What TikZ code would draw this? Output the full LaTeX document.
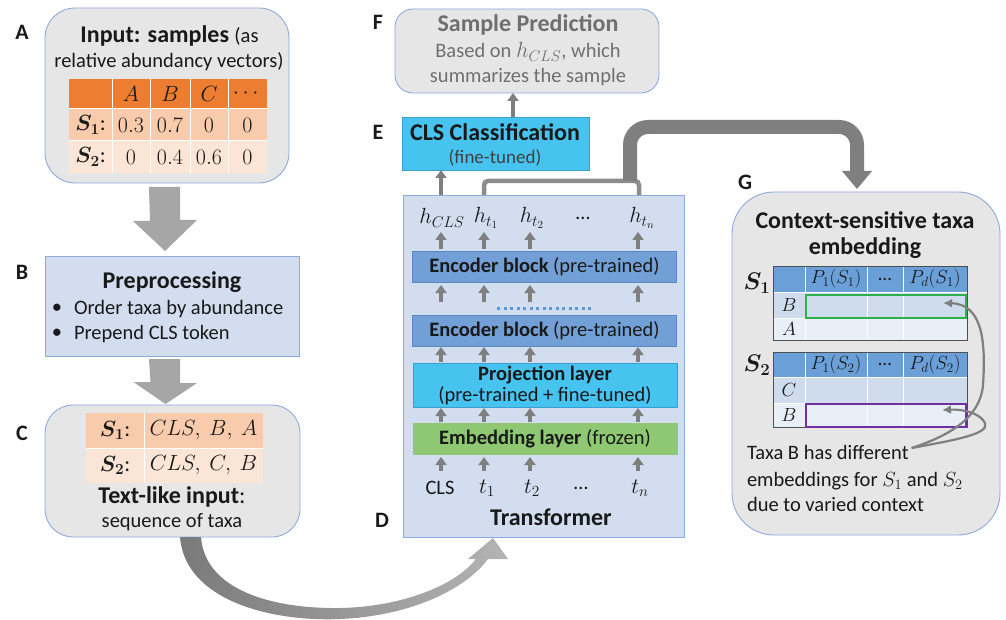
\RequirePackage{fix-cm}
\documentclass[tikz,border=0pt]{standalone}
\usepackage{amsmath}
\usepackage{bm}
\usepackage[no-math]{fontspec}
\setmainfont{Carlito}
\usetikzlibrary{arrows.meta,calc}

\definecolor{boxgray}{HTML}{E7E6E6}
\definecolor{boxedge}{HTML}{8EA9DB}
\definecolor{boxblue}{HTML}{D2DEEF}
\definecolor{encblue}{HTML}{72A0D6}
\definecolor{encedge}{HTML}{5A88C4}
\definecolor{cyanbox}{HTML}{47C3F0}
\definecolor{cyanedge}{HTML}{3A9FD0}
\definecolor{embgreen}{HTML}{8FC872}
\definecolor{orhead}{HTML}{ED7D31}
\definecolor{orrow1}{HTML}{F8CBAD}
\definecolor{orrow2}{HTML}{FBE5D6}
\definecolor{bhead}{HTML}{6A9FD8}
\definecolor{brow1}{HTML}{CFDCEE}
\definecolor{brow2}{HTML}{E9EFF7}
\definecolor{arrgray}{HTML}{7F7F7F}
\definecolor{biggray}{HTML}{A6A6A6}
\definecolor{txtgray}{HTML}{6F6F6F}
\definecolor{selgreen}{HTML}{2DB04E}
\definecolor{selpurple}{HTML}{7030A0}
\definecolor{tabline}{HTML}{505050}
\definecolor{dotblue}{HTML}{5B9BD5}
\definecolor{shadeL}{HTML}{7A7A7A}
\definecolor{shadeR}{HTML}{B4B4B4}

\newcommand\fsH{\fontsize{24}{28}\selectfont}
\newcommand\fsB{\fontsize{20.5}{24}\selectfont}
\newcommand\fsM{\fontsize{22}{26}\selectfont}
\newcommand\fsS{\fontsize{19}{22}\selectfont}
\newcommand\fsL{\fontsize{22}{26}\selectfont}

\begin{document}
\begin{tikzpicture}[x=1pt,y=-1pt,
  every node/.style={inner sep=0pt, outer sep=0pt, font=\fsB, text=black!90},
  panel/.style={draw=boxedge, line width=0.9pt, fill=boxgray},
  bpanel/.style={draw=boxedge, line width=0.9pt, fill=boxblue},
  layer/.style={minimum width=264pt, minimum height=31pt, line width=0.8pt},
  lbl/.style={font=\fsL\bfseries},
  hd/.style={font=\fsH\bfseries},
  sarr/.style={draw=arrgray, line width=3.2pt, -{Triangle[width=11pt,length=8pt]}},
  garr/.style={draw=arrgray, line width=2.2pt, -{Latex[width=9pt,length=9pt]}},
  tabtxt/.style={font=\fsS},
  mathlbl/.style={font=\fsM},
]
\useasboundingbox (0,0) rectangle (1006,620);

% ---------- Panel A ----------
\node[panel, rounded corners=30pt, minimum width=244pt, minimum height=175pt] (boxA) at (167,95.5) {};
\node[lbl] (labA) at (22,32) {A};
\node (tA1) at (169.5,36) {\fsH\bfseries Input: samples \fsB\mdseries(as};
\node (tA2) at (169,62) {relative abundancy vectors)};
\fill[orhead] (69,79) rectangle (267,109);
\fill[orrow1] (69,109) rectangle (267,141);
\fill[orrow2] (69,141) rectangle (267,173);
\foreach \xx in {112,150,190,228} \draw[white, line width=1pt] (\xx,79) -- (\xx,173);
\foreach \yy in {109,141} \draw[white, line width=1pt] (69,\yy) -- (267,\yy);
\node[mathlbl] (aHA) at (131,94) {$A$};
\node[mathlbl] (aHB) at (170,94) {$B$};
\node[mathlbl] (aHC) at (209,94) {$C$};
\node[mathlbl] (aHD) at (247.5,94) {$\cdots$};
\node[mathlbl] (aR1) at (90.5,125) {$\bm{S_1}$:};
\node[mathlbl] (a11) at (131,125) {$0.3$};
\node[mathlbl] (a12) at (170,125) {$0.7$};
\node[mathlbl] (a13) at (209,125) {$0$};
\node[mathlbl] (a14) at (247.5,125) {$0$};
\node[mathlbl] (aR2) at (90.5,157) {$\bm{S_2}$:};
\node[mathlbl] (a21) at (131,157) {$0$};
\node[mathlbl] (a22) at (170,157) {$0.4$};
\node[mathlbl] (a23) at (209,157) {$0.6$};
\node[mathlbl] (a24) at (247.5,157) {$0$};

% ---------- Panel B ----------
\node[bpanel, minimum width=254pt, minimum height=100pt] (boxB) at (172,306) {};
\node[lbl] (labB) at (22,272) {B};
\node[hd] (tB1) at (172,282) {Preprocessing};
\node (bul1) at (57,309) {•};
\node[anchor=west] (tB2) at (74,309) {Order taxa by abundance};
\node (bul2) at (57,334) {•};
\node[anchor=west] (tB3) at (74,334) {Prepend CLS token};

% ---------- Panel C ----------
\node[panel, rounded corners=28pt, minimum width=255pt, minimum height=132pt] (boxC) at (172.5,471) {};
\node[lbl] (labC) at (22,433) {C};
\fill[orrow1] (86,413) rectangle (263,448);
\fill[orrow2] (86,448) rectangle (263,483);
\draw[white, line width=1pt] (144,413) -- (144,483) (86,448) -- (263,448);
\node[mathlbl] (cR1) at (115,430.5) {$\bm{S_1}$:};
\node[mathlbl] (cV1) at (203.5,430.5) {$CLS,\ B,\ A$};
\node[mathlbl] (cR2) at (115,465.5) {$\bm{S_2}$:};
\node[mathlbl] (cV2) at (203.5,465.5) {$CLS,\ C,\ B$};
\node (tC1) at (172,497) {\fsH\bfseries Text-like input\mdseries:};
\node (tC2) at (172,522) {sequence of taxa};

% block arrows A->B, B->C
\fill[biggray] ($(boxA.south)+(-18,4)$) -- ++(31,0) -- ++(0,33) -- ++(17,0)
  -- ($(boxB.north)+(-7,-5)$) -- ++(-32,-30) -- ++(17,0) -- cycle;
\fill[biggray] ($(boxB.south)+(-23,3)$) -- ++(31,0) -- ++(0,24) -- ++(17,0)
  -- ($(boxC.north)+(-7,-1)$) -- ++(-32,-22) -- ++(17,0) -- cycle;

% ---------- Panel D: Transformer ----------
\node[bpanel, minimum width=281pt, minimum height=342pt] (boxD) at (543.5,366) {};
\node[lbl] (labD) at (382,520) {D};
\node[layer, fill=encblue, draw=encedge] (enc1) at (544.5,266.5) {\textbf{Encoder block} (pre-trained)};
\node[layer, fill=encblue, draw=encedge] (enc2) at (544.5,330.5) {\textbf{Encoder block} (pre-trained)};
\node[layer, fill=cyanbox, draw=cyanedge, minimum height=44pt, align=center] (proj) at (545,385)
  {\textbf{Projection layer}\\[-3pt](pre-trained + fine-tuned)};
\node[layer, fill=embgreen, draw=embgreen] (emb) at (545,438.5) {\textbf{Embedding layer} (frozen)};
\node[hd] (tD) at (551,517) {Transformer};

\coordinate (c1) at (441,0);
\coordinate (c2) at (484,0);
\coordinate (c3) at (530,0);
\coordinate (c4) at (638,0);

\node[mathlbl] (h1) at (442,218) {$h_{CLS}$};
\node[mathlbl] (h2) at (486,218) {$h_{t_1}$};
\node[mathlbl] (h3) at (532,218) {$h_{t_2}$};
\node (h4) at (583,218) {…};
\node[mathlbl] (h5) at (642,218) {$h_{t_n}$};
\node (k1) at (440,488) {CLS};
\node[mathlbl] (k2) at (487,488) {$t_1$};
\node[mathlbl] (k3) at (532,488) {$t_2$};
\node (k4) at (581,488) {…};
\node[mathlbl] (k5) at (640,488) {$t_n$};

\foreach \c in {c1,c2,c3,c4} {
  \draw[sarr] ($(emb.south -| \c)+(0,17)$) -- ($(emb.south -| \c)+(0,3)$);
  \draw[sarr] ($(emb.north -| \c)+(0,-1)$) -- ($(proj.south -| \c)+(0,1)$);
  \draw[sarr] ($(proj.north -| \c)+(0,-1)$) -- ($(enc2.south -| \c)+(0,1)$);
  \draw[sarr] ($(enc1.south -| \c)+(0,20)$) -- ($(enc1.south -| \c)+(0,3)$);
  \draw[sarr] ($(enc1.north -| \c)+(0,-2)$) -- ($(enc1.north -| \c)+(0,-19)$);
}
\coordinate (dl) at (497,308);
\coordinate (dr) at (594,308);
\draw[draw=dotblue, line width=3pt, dash pattern=on 3pt off 3.5pt] (dl) -- (dr);

% ---------- Panel E ----------
\node[fill=cyanbox, draw=cyanedge, line width=0.8pt, minimum width=187pt, minimum height=53pt] (boxE) at (495.5,143.5) {};
\node[lbl] (labE) at (378,132) {E};
\node[hd] (tE1) at (495,132) {CLS Classification};
\node[font=\fsS, text=black!75] (tE2) at (495,158) {(fine-tuned)};

% ---------- Panel F ----------
\node[panel, rounded corners=18pt, minimum width=264pt, minimum height=84pt] (boxF) at (527,51) {};
\node[lbl] (labF) at (378,22) {F};
\node[hd, text=txtgray] (tF1) at (528,25) {Sample Prediction};
\node[text=txtgray] (tF2) at (528,52) {Based on {\fsM$h_{CLS}$}, which};
\node[text=txtgray] (tF3) at (528,77) {summarizes the sample};

\coordinate (cEF) at (513,0);
\draw[sarr] (boxE.north -| cEF) -- (boxF.south -| cEF);
\draw[sarr] (boxD.north -| c1) -- (boxE.south -| c1);

% bracket and thick arrow to G
\coordinate (bkL) at (484,181);
\coordinate (bkR) at (639,181);
\draw[draw=arrgray!90, line width=4.5pt, rounded corners=4pt]
  (boxD.north -| bkL) -- (bkL) -- (bkR) -- (boxD.north -| bkR);
\coordinate (ta0) at (630,181);
\coordinate (ta1) at (630,127);
\coordinate (ta2) at (857,127);
\coordinate (ta3) at (857,172);
\draw[arrgray, line width=14pt, rounded corners=18pt] (ta0) -- (ta1) -- (ta2) -- (ta3);
\fill[arrgray] (842,171) -- (872,171) -- (857,189) -- cycle;

% curved arrow C -> D
\shade[left color=shadeL, right color=shadeR]
  (180,537) .. controls (185,600) and (270,622) .. (340,619)
  .. controls (410,616) and (465,590) .. (488,559)
  -- (508,559) -- (493,538) -- (468,559) -- (476,559)
  .. controls (455,586) and (400,607) .. (340,608)
  .. controls (272,609) and (205,590) .. (201,537) -- cycle;

% ---------- Panel G ----------
\node[panel, rounded corners=42pt, minimum width=268pt, minimum height=343pt] (boxG) at (866,363.5) {};
\node[lbl] (labG) at (745,182) {G};
\node[hd] (tG1) at (865,220) {Context-sensitive taxa};
\node[hd] (tG2) at (865,248) {embedding};

% table S1
\fill[bhead] (773,266) rectangle (967,292);
\fill[brow1] (773,292) rectangle (967,318);
\fill[brow2] (773,318) rectangle (967,340);
\foreach \xx in {805,867,903} \draw[white, line width=1pt] (\xx,266) -- (\xx,340);
\draw[white, line width=1pt] (773,292) -- (967,292) (773,318) -- (967,318);
\draw[tabline, line width=0.7pt] (773,266) rectangle (967,340);
\node[font=\fsH] (gS1) at (757,283) {$\bm{S_1}$};
\node[tabtxt] (g1h1) at (836,279) {$P_1(S_1)$};
\node[tabtxt] (g1h2) at (885,279) {…};
\node[tabtxt] (g1h3) at (935,279) {$P_d(S_1)$};
\node[tabtxt] (g1rB) at (789,305) {$B$};
\node[tabtxt] (g1rA) at (789,329) {$A$};
\node[draw=selgreen, line width=2pt, minimum width=160pt, minimum height=23pt] (selS1) at (886,306) {};

% table S2
\fill[bhead] (773,352) rectangle (967,377);
\fill[brow1] (773,377) rectangle (967,403);
\fill[brow2] (773,403) rectangle (967,427);
\foreach \xx in {805,867,903} \draw[white, line width=1pt] (\xx,352) -- (\xx,427);
\draw[white, line width=1pt] (773,377) -- (967,377) (773,403) -- (967,403);
\draw[tabline, line width=0.7pt] (773,352) rectangle (967,427);
\node[font=\fsH] (gS2) at (757,365) {$\bm{S_2}$};
\node[tabtxt] (g2h1) at (836,364.5) {$P_1(S_2)$};
\node[tabtxt] (g2h2) at (885,364.5) {…};
\node[tabtxt] (g2h3) at (935,364.5) {$P_d(S_2)$};
\node[tabtxt] (g2rC) at (789,390) {$C$};
\node[tabtxt] (g2rB) at (789,415) {$B$};
\node[draw=selpurple, line width=2pt, minimum width=160pt, minimum height=23pt] (selS2) at (886,415.5) {};

\node[anchor=west] (tx1) at (747,452) {Taxa B has different};
\node[anchor=west] (tx2) at (747,481) {embeddings for $S_1$ and $S_2$};
\node[anchor=west] (tx3) at (747,504) {due to varied context};

\coordinate (gst) at ($(tx1.east)+(3,-4)$);
\coordinate (tipS1) at (943,303);
\coordinate (tipS2) at (942,410);
\draw[garr] (gst) .. controls (945,437) and (980,420) .. (983,385)
  .. controls (986,340) and (982,304) .. (tipS1);
\draw[garr] (gst) .. controls (955,440) and (990,434) .. (985,423)
  .. controls (980,413) and (963,409) .. (tipS2);
\end{tikzpicture}
\end{document}
